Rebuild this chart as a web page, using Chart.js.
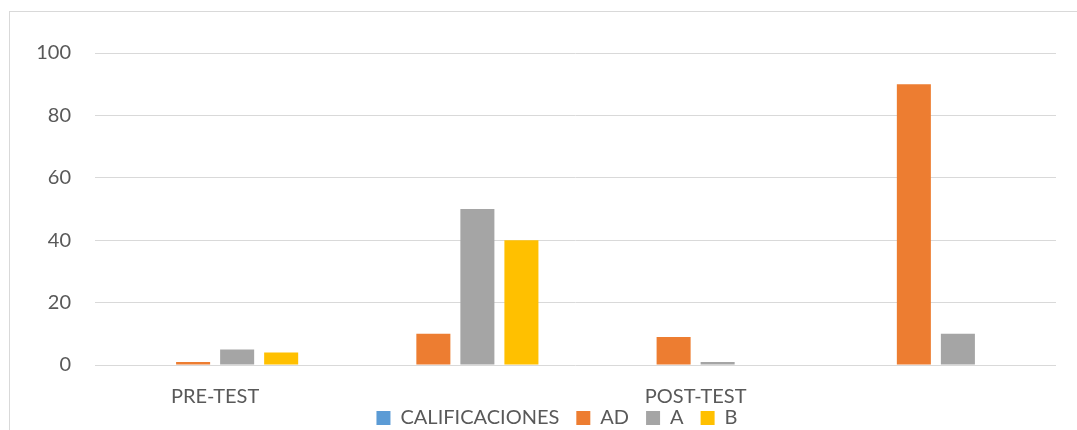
<!DOCTYPE html>
<html><head><meta charset="utf-8">
<script src="https://cdn.jsdelivr.net/npm/chart.js@4/dist/chart.umd.min.js"></script>
<style>html,body{margin:0;padding:0;background:#fff;overflow:hidden}#wrap{width:1077px;height:430px;position:relative}</style>
</head><body><div id="wrap"><canvas id="c" width="1077" height="430"></canvas></div>
<script>
const categories = ['PRE-TEST', '', 'POST-TEST', ''];
const seriesNames = ['CALIFICACIONES', 'AD', 'A', 'B'];
const calificaciones = [0, 0, 0, 0];
const ad = [1, 10, 9, 90];
const a = [5, 50, 1, 10];
const b = [4, 40, 0, 0];
const yTicks = [0, 20, 40, 60, 80, 100];
const colors = ['#5B9BD5', '#ED7D31', '#A5A5A5', '#FFC000'];

const FONT = 'Lato, "Open Sans", sans-serif';
const LEFT_PAD = 58;
const frame = {
  id: 'frame',
  beforeDraw(chart) {
    const ctx = chart.ctx;
    ctx.save();
    ctx.strokeStyle = '#d9d9d9';
    ctx.lineWidth = 1;
    ctx.strokeRect(9.5, 11.5, 1200, 600);
    ctx.restore();
  }
};

const data = {
  labels: categories,
  datasets: [calificaciones, ad, a, b].map((vals, i) => ({
    label: seriesNames[i],
    data: vals,
    backgroundColor: colors[i],
    borderWidth: 0,
    categoryPercentage: 0.733,
    barPercentage: 0.773
  }))
};

new Chart(document.getElementById('c'), {
  type: 'bar',
  data,
  plugins: [frame],
  options: {
    responsive: false,
    animation: false,
    devicePixelRatio: 1,
    layout: { padding: { left: LEFT_PAD, right: 21, top: 53, bottom: 0 } },
    plugins: {
      tooltip: { enabled: false },
      legend: {
        position: 'bottom',
        maxHeight: 39,
        labels: {
          color: '#595959',
          font: { family: FONT, size: 20 },
          boxWidth: 14, boxHeight: 14,
          padding: 17
        }
      }
    },
    scales: {
      x: {
        grid: { display: false },
        border: { display: false },
        ticks: { color: '#595959', font: { family: FONT, size: 20 }, padding: 12, autoSkip: false, maxRotation: 0 },
        afterFit(s) { s.height = 26; s._computeLabelArea = () => undefined; }
      },
      y: {
        min: 0, max: 100,
        afterBuildTicks(s) { s.ticks = yTicks.map(v => ({ value: v })); },
        grid: { color: '#d9d9d9', lineWidth: 1, drawTicks: false },
        border: { display: false },
        ticks: { color: '#595959', font: { family: FONT, size: 20 }, padding: 24 },
        afterFit(s) { s.width = 95 - LEFT_PAD; s._computeLabelArea = () => undefined; }
      }
    }
  }
});
</script></body></html>
